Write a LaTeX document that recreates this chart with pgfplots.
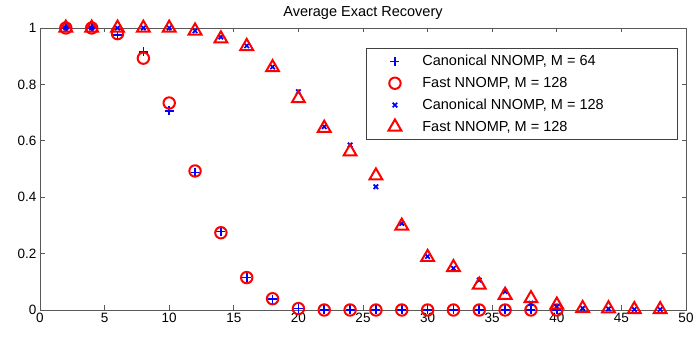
\documentclass[border=0pt]{standalone}
\usepackage{pgfplots}
\pgfplotsset{compat=1.18}
\usetikzlibrary{calc}
\usepackage{fontspec}
\setmainfont{Liberation Sans}
\begin{document}
\begin{tikzpicture}
\begin{axis}[
  width=646pt, height=282pt, scale only axis,
  xmin=0, xmax=50, ymin=0, ymax=1,
  xtick={0,5,...,50}, ytick={0,0.2,0.4,0.6,0.8,1},
  yticklabels={0,0.2,0.4,0.6,0.8,1},
  tick align=inside, major tick length=4.5pt,
  ticklabel style={font=\fontsize{13.5}{15}\selectfont},
  /pgf/number format/assume math mode=true,
  title={Average Exact Recovery},
  title style={font=\fontsize{14.5}{16}\selectfont, at={(0.5,1)}, anchor=center, yshift=9pt},
  axis line style={black!65, line width=0.9pt},
  every tick/.style={black!65, line width=0.7pt},
  clip=false,
  legend style={at={(0.988,0.929)}, anchor=north east, font=\fontsize{14.5}{16}\selectfont,
    draw=black!75, line width=0.8pt, row sep=6pt, column sep=19pt, inner xsep=22.5pt, inner ysep=5pt},
  legend cell align=left,
]
\coordinate (sw) at (rel axis cs:0,0);
\coordinate (ne) at (rel axis cs:1,1);
\addplot[only marks, mark=+, mark size=4.5pt, blue, line width=1.7pt] coordinates {
(2,1) (4,1) (6,0.975) (8,0.916) (10,0.706) (12,0.488) (14,0.278) (16,0.115) (18,0.038) (20,0.005)
(22,0) (24,0) (26,0) (28,0) (30,0) (32,0) (34,0) (36,0) (38,0) (40,0)};
\addlegendentry{\makebox[231pt][l]{Canonical NNOMP, M = 64}}
\addplot[only marks, mark=o, mark size=5.7pt, red, line width=2pt] coordinates {
(2,1) (4,1) (6,0.98) (8,0.893) (10,0.734) (12,0.493) (14,0.274) (16,0.115) (18,0.04) (20,0.005)
(22,0) (24,0) (26,0) (28,0) (30,0) (32,0) (34,0) (36,0) (38,0) (40,0)};
\addlegendentry{Fast NNOMP, M = 128}
\addplot[only marks, mark=x, mark size=3.2pt, blue, line width=1.7pt] coordinates {
(2,1) (4,1) (6,1) (8,1) (10,1) (12,0.99) (14,0.968) (16,0.937) (18,0.862) (20,0.774)
(22,0.65) (24,0.585) (26,0.437) (28,0.307) (30,0.19) (32,0.148) (34,0.106) (36,0.065) (38,0.024) (40,0.012)
(42,0.006) (44,0.004) (46,0.002) (48,0.002)};
\addlegendentry{Canonical NNOMP, M = 128}
\addplot[only marks, mark=triangle, mark size=7.4pt, red, line width=2pt] coordinates {
(2,1) (4,1) (6,1) (8,1) (10,1) (12,0.99) (14,0.962) (16,0.935) (18,0.86) (20,0.75)
(22,0.645) (24,0.561) (26,0.476) (28,0.298) (30,0.187) (32,0.151) (34,0.089) (36,0.053) (38,0.041) (40,0.018)
(42,0.006) (44,0.005) (46,0.002) (48,0.002)};
\addlegendentry{Fast NNOMP, M = 128}
\end{axis}
\pgfresetboundingbox
\path ($(sw)+(-40pt,-27pt)$) rectangle ($(ne)+(10pt,28pt)$);
\end{tikzpicture}
\end{document}
